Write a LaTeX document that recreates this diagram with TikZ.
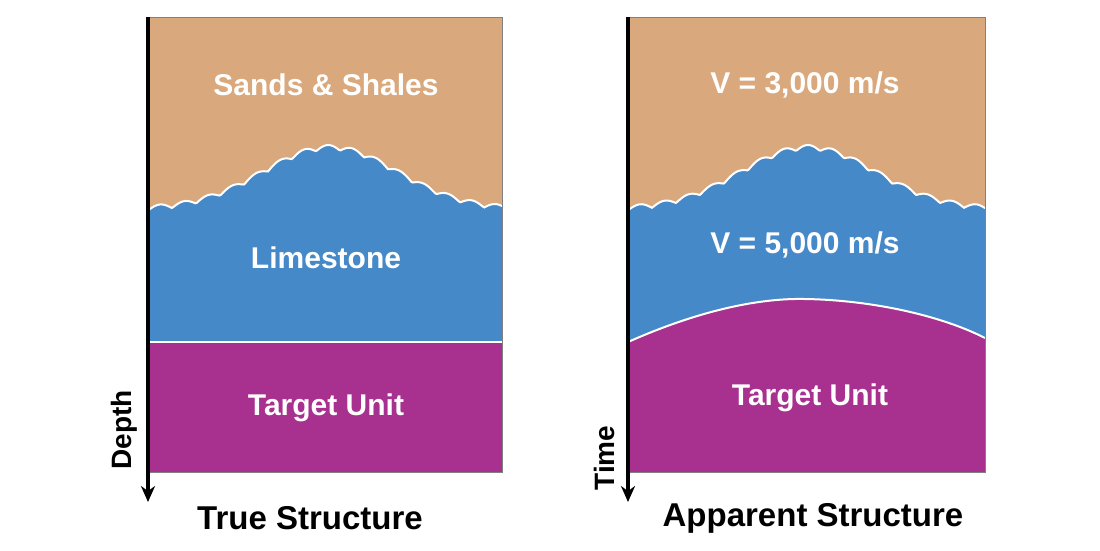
\documentclass[tikz,border=0pt]{standalone}
\usepackage{fontspec}
\setmainfont{Liberation Sans}
\usetikzlibrary{arrows.meta}
\begin{document}
\begin{tikzpicture}[x=1pt,y=-1pt,
  lbl/.style={text=white,font=\bfseries\fontsize{30}{34}\selectfont},
  ttl/.style={font=\bfseries\fontsize{33}{38}\selectfont},
  axl/.style={font=\bfseries\fontsize{28}{32}\selectfont,rotate=90},
  edge/.style={draw=white,line width=2pt}]
\definecolor{tan}{HTML}{D9A87C}
\definecolor{lime}{HTML}{4589C8}
\definecolor{targ}{HTML}{A8308E}
\useasboundingbox (0,0) rectangle (1100,550);
% Left panel
\fill[tan] (148,17) rectangle (502,472);
\fill[lime] plot[domain=148:502,samples=240] ({\x},{212-62*exp(-((\x-330)/95)^2)-5*abs(sin((\x-148)/24*180))}) -- (502,342) -- (148,342) -- cycle;
\draw[edge] plot[domain=148:502,samples=240] ({\x},{212-62*exp(-((\x-330)/95)^2)-5*abs(sin((\x-148)/24*180))});
\fill[targ] (148,342) rectangle (502,472);
\draw[edge] (148,342) -- (502,342);
\draw[gray,line width=1pt] (148,17) rectangle (502,472);
% Right panel
\fill[tan] (628,17) rectangle (985,472);
\fill[lime] plot[domain=628:985,samples=240] ({\x},{212-62*exp(-((\x-808)/95)^2)-5*abs(sin((\x-628)/24*180))}) -- (985,472) -- (628,472) -- cycle;
\draw[edge] plot[domain=628:985,samples=240] ({\x},{212-62*exp(-((\x-808)/95)^2)-5*abs(sin((\x-628)/24*180))});
\fill[targ] (628,342) .. controls (700,310) and (760,298) .. (805,299) .. controls (870,300) and (940,315) .. (985,338) -- (985,472) -- (628,472) -- cycle;
\draw[edge] (628,342) .. controls (700,310) and (760,298) .. (805,299) .. controls (870,300) and (940,315) .. (985,338);
\draw[gray,line width=1pt] (628,17) rectangle (985,472);
% Axes
\coordinate (a1) at (148,17); \coordinate (a2) at (148,502);
\draw[line width=3.5pt,-{Stealth[length=16pt,width=14pt]}] (a1) -- (a2);
\coordinate (b1) at (628,17); \coordinate (b2) at (628,502);
\draw[line width=3.5pt,-{Stealth[length=16pt,width=14pt]}] (b1) -- (b2);
% Labels
\node[lbl] (t1) at (326,85) {Sands \& Shales};
\node[lbl] (t2) at (326,258) {Limestone};
\node[lbl] (t3) at (326,408) {Target Unit};
\node[lbl] (t4) at (805,85) {V = 3,000 m/s};
\node[lbl] (t5) at (805,245) {V = 5,000 m/s};
\node[lbl] (t6) at (810,398) {Target Unit};
\node[axl] (d) at (124,430) {Depth};
\node[axl] (tm) at (604,458) {Time};
\node[ttl] (T1) at (310,518) {True Structure};
\node[ttl] (T2) at (813,518) {Apparent Structure};
\end{tikzpicture}
\end{document}
